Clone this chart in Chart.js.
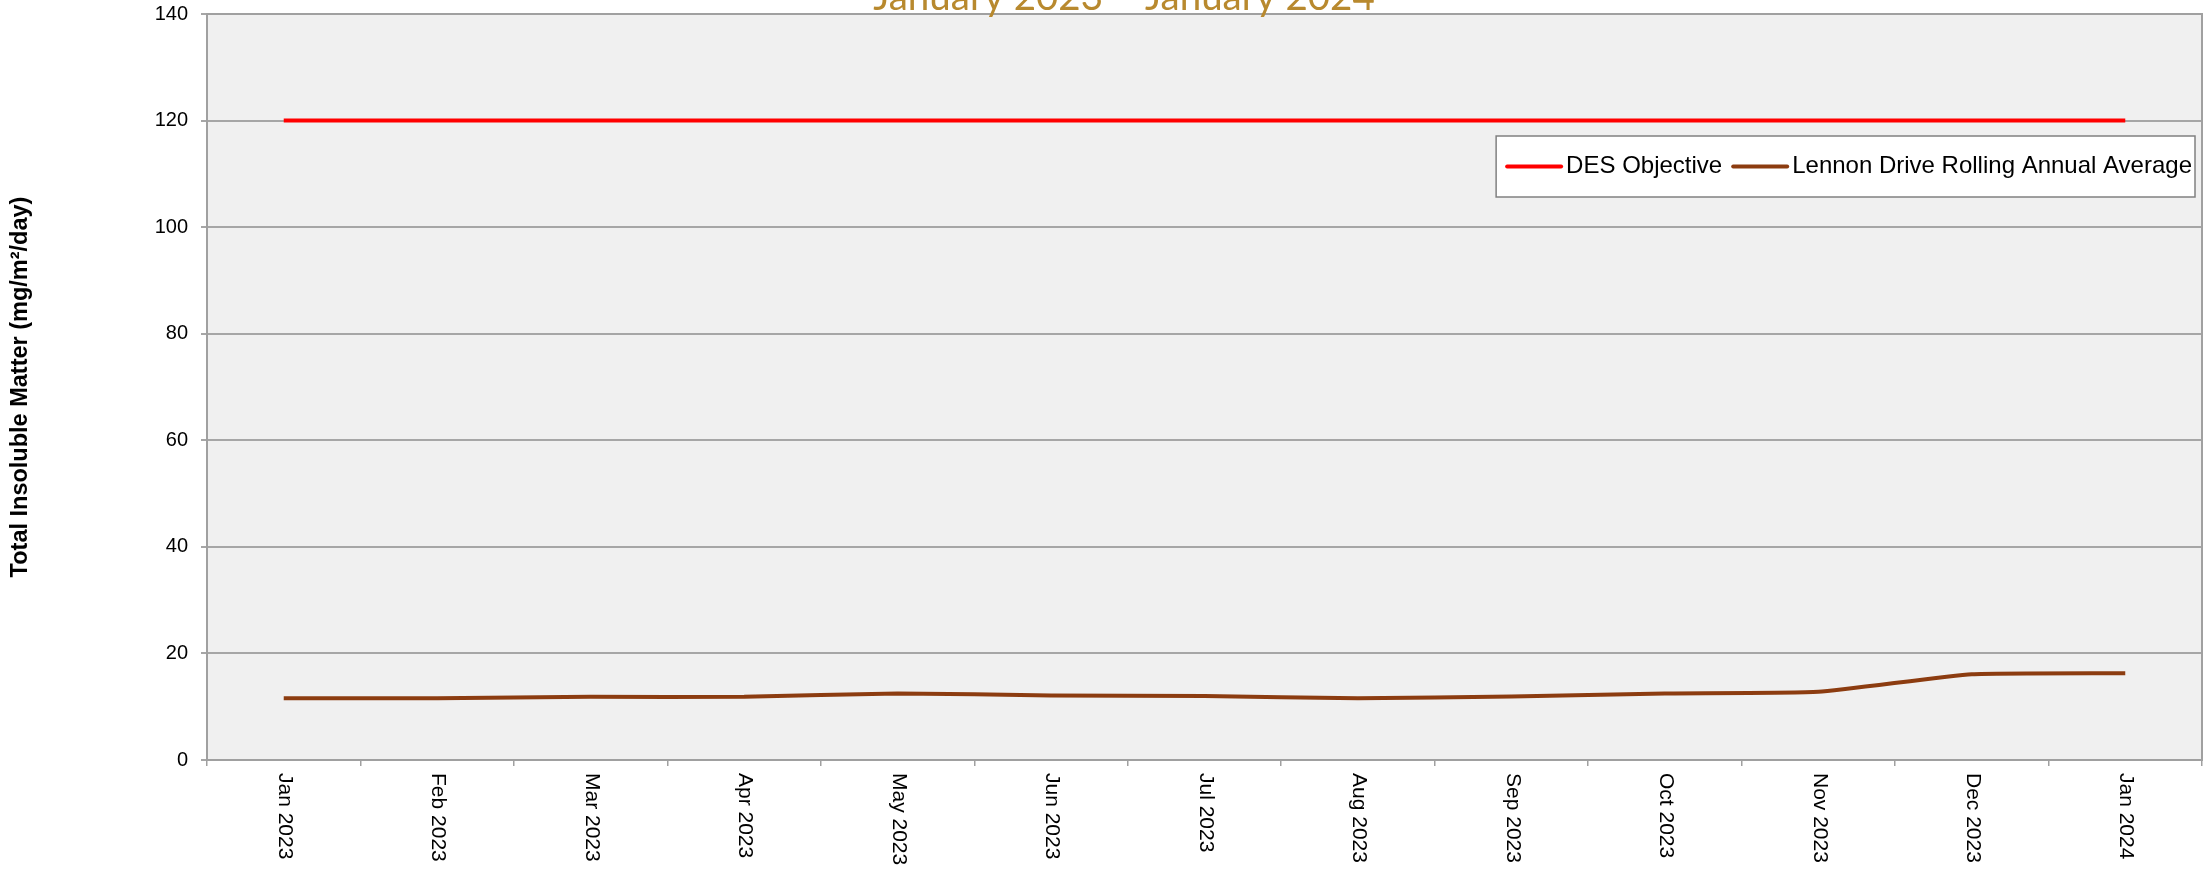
<!DOCTYPE html>
<html>
<head>
<meta charset="utf-8">
<script src="https://cdn.jsdelivr.net/npm/chart.js@4.4.1/dist/chart.umd.min.js"></script>
<style>
  html, body { margin: 0; padding: 0; background: #fff; }
  #wrap { width: 2206px; height: 872px; }
</style>
</head>
<body>
<div id="wrap"><canvas id="dustChart" width="2206" height="872"></canvas></div>
<script>
  const months = [
    "Jan 2023", "Feb 2023", "Mar 2023", "Apr 2023", "May 2023", "Jun 2023",
    "Jul 2023", "Aug 2023", "Sep 2023", "Oct 2023", "Nov 2023", "Dec 2023", "Jan 2024",
  ];
  const desObjective = [120, 120, 120, 120, 120, 120, 120, 120, 120, 120, 120, 120, 120];
  const lennonDrive = [11.6, 11.6, 11.85, 11.85, 12.5, 12.1, 12.0, 11.6, 11.9, 12.5, 12.8, 16.1, 16.3];
  const chartTitle = "January 2023 – January 2024";
  const yTitle = "Total Insoluble Matter (mg/m²/day)";

  const baseFont = "'Liberation Sans', Arial, sans-serif";

  // plot background + border, title, rotated month labels and boxed legend
  const decorations = {
    id: "decorations",
    beforeDraw(chart) {
      const { ctx, chartArea: a } = chart;
      ctx.save();
      ctx.fillStyle = "#ffffff";
      ctx.fillRect(0, 0, chart.width, chart.height);
      ctx.fillStyle = "#f0f0f0";
      ctx.fillRect(a.left, a.top, a.right - a.left, a.bottom - a.top);
      ctx.restore();
    },
    afterDraw(chart) {
      const { ctx, chartArea: a } = chart;
      const x = chart.scales.x;
      ctx.save();

      ctx.strokeStyle = "#a0a0a0";
      ctx.lineWidth = 2;
      ctx.strokeRect(a.left, a.top, a.right - a.left, a.bottom - a.top);

      // title, mostly above the top edge like the original
      ctx.fillStyle = "#b8892e";
      ctx.font = "38.5px Lato, 'Open Sans', sans-serif";
      ctx.textAlign = "center";
      ctx.textBaseline = "alphabetic";
      ctx.fillText(chartTitle, 1124, 10);

      // month labels, reading top to bottom
      ctx.fillStyle = "#000";
      ctx.font = "21px " + baseFont;
      ctx.textAlign = "left";
      ctx.textBaseline = "middle";
      months.forEach((m, i) => {
        ctx.save();
        ctx.translate(x.getPixelForValue(i) + 1, a.bottom + 13);
        ctx.rotate(Math.PI / 2);
        ctx.fillText(m, 0, 0);
        ctx.restore();
      });

      // legend
      const ds = chart.data.datasets;
      ctx.font = "24px " + baseFont;
      const sample = 54;
      const widths = ds.map((d) => ctx.measureText(d.label).width);
      const boxW = 11 + ds.length * (sample + 5) + widths.reduce((s, w) => s + w, 0) + 11 * (ds.length - 1) + 3;
      const boxR = a.right - 7;
      const boxL = boxR - boxW;
      const boxT = 136;
      const boxH = 61;
      ctx.fillStyle = "#ffffff";
      ctx.fillRect(boxL, boxT, boxW, boxH);
      ctx.strokeStyle = "#808080";
      ctx.lineWidth = 1.5;
      ctx.strokeRect(boxL, boxT, boxW, boxH);
      let cx = boxL + 11;
      const cy = boxT + boxH / 2;
      ds.forEach((d, i) => {
        ctx.strokeStyle = d.borderColor;
        ctx.lineWidth = 4;
        ctx.lineCap = "round";
        ctx.beginPath();
        ctx.moveTo(cx, cy);
        ctx.lineTo(cx + sample, cy);
        ctx.stroke();
        cx += sample + 5;
        ctx.fillStyle = "#000";
        ctx.fillText(d.label, cx, cy);
        cx += widths[i] + 11;
      });

      ctx.restore();
    },
  };

  new Chart(document.getElementById("dustChart"), {
    type: "line",
    data: {
      labels: months,
      datasets: [
        {
          label: "DES Objective",
          data: desObjective,
          borderColor: "#ff0000",
          borderWidth: 4,
          pointRadius: 0,
          tension: 0,
        },
        {
          label: "Lennon Drive Rolling Annual Average",
          data: lennonDrive,
          borderColor: "#8c3c10",
          borderWidth: 4,
          pointRadius: 0,
          tension: 0.15,
        },
      ],
    },
    options: {
      responsive: false,
      animation: false,
      devicePixelRatio: 1,
      layout: {
        padding: { top: 14, right: 4, left: 0, bottom: 0 },
      },
      plugins: {
        legend: { display: false },
        title: { display: false },
        tooltip: { enabled: false },
      },
      scales: {
        x: {
          type: "category",
          offset: true,
          grid: {
            offset: true,
            drawOnChartArea: false,
            drawTicks: true,
            tickLength: 6,
            color: "#a0a0a0",
            lineWidth: 1.5,
          },
          border: { color: "#a0a0a0", width: 2 },
          ticks: { display: false },
          afterFit(scale) {
            scale.height = 112;
            scale.paddingLeft = 0;
            scale.paddingRight = 0;
          },
        },
        y: {
          min: 0,
          max: 140,
          ticks: {
            stepSize: 20,
            color: "#000",
            padding: 13,
            font: { family: baseFont, size: 20 },
          },
          grid: {
            color: "#a6a6a6",
            lineWidth: 2,
            tickLength: 6,
          },
          border: { color: "#a0a0a0", width: 2 },
          title: {
            display: true,
            text: yTitle,
            color: "#000",
            font: { family: baseFont, size: 23.5, weight: "bold" },
            padding: { top: 6, bottom: 0 },
          },
          afterFit(scale) {
            scale.width = 207;
            scale.paddingTop = 0;
            scale.paddingBottom = 0;
          },
        },
      },
    },
    plugins: [decorations],
  });
</script>
</body>
</html>
